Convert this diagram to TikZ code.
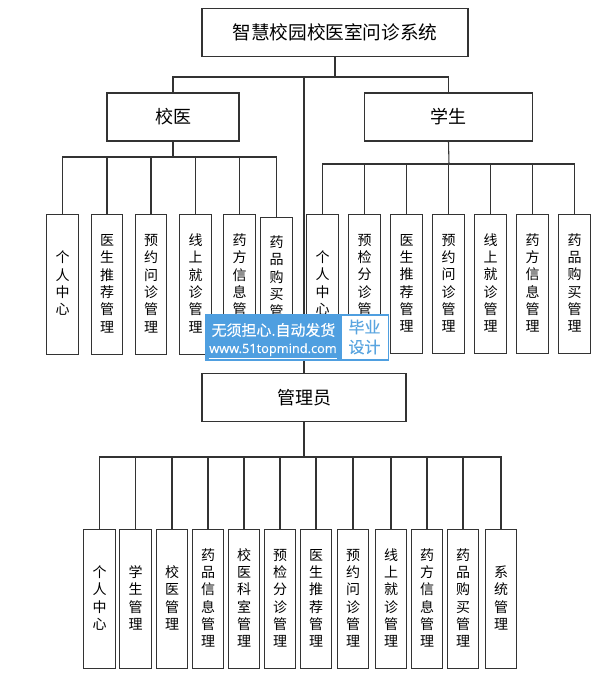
\documentclass[tikz,border=0pt]{standalone}
\usepackage{fontspec}
\setmainfont{Noto Sans CJK SC}
\newfontfamily\latinwm[FakeBold=0.3]{Open Sans}
\newfontfamily\cjkwm[FakeBold=0.25]{Noto Sans CJK SC}
\definecolor{wmblue}{HTML}{4F9FE0}
\definecolor{wmtext}{HTML}{5AA5E0}
\definecolor{linegrey}{HTML}{333333}
\newcommand\vtxt[1]{\raisebox{-3.4pt}[0pt][0pt]{\begin{tabular}[c]{@{}c@{}}#1\end{tabular}}}
\tikzset{
  x=0.75pt,y=-0.75pt,
  box/.style={draw=linegrey,line width=0.8pt,fill=white,inner sep=0pt,align=center},
  bigbox/.style={box,font=\fontsize{13.5pt}{16pt}\selectfont},
  vbox/.style={draw=linegrey,line width=0.8pt,fill=white,inner sep=0pt,minimum width=23.5pt,minimum height=104.5pt,font=\fontsize{10.5pt}{13pt}\selectfont},
  link/.style={draw=linegrey,line width=0.8pt},
}
\begin{document}
\begin{tikzpicture}
\useasboundingbox (0,0) rectangle (594,676);
\fill[white] (0,0) rectangle (594,676);
% root and main branches
\node[bigbox,font=\fontsize{14pt}{16pt}\selectfont,minimum width=199.5pt,minimum height=36.5pt] (root) at (335,32.5) {智慧校园校医室问诊系统};
\node[bigbox,minimum width=99pt,minimum height=36pt] (doc) at (173,117) {校医};
\node[bigbox,minimum width=126.5pt,minimum height=36pt] (stu) at (448.5,117) {学生};
\node[bigbox,minimum width=153pt,minimum height=36.5pt] (adm) at (304,397.5) {管理员};
\coordinate (rootbus) at (335,77);
\coordinate (docbus) at (173,157);
\coordinate (stubus) at (449,164);
\coordinate (admbus) at (304,457);
% links behind the boxes
\draw[link] (root.south) -- (rootbus);
\draw[link] (adm.north) |- (rootbus);
\draw[link] (doc.north) |- (rootbus);
\draw[link] (stu.north) |- (rootbus);
\draw[link] (doc.south) -- (docbus);
\draw[link] (stu.south) -- (stubus);
\draw[link] (adm.south) -- (admbus);
% doctor children
\foreach \n/\x/\t in {d1/62.5/个\\人\\中\\心, d2/107/医\\生\\推\\荐\\管\\理, d3/151/预\\约\\问\\诊\\管\\理, d4/195.5/线\\上\\就\\诊\\管\\理, d5/239.5/药\\方\\信\\息\\管\\理}{
  \node[vbox] (\n) at (\x,284.5) {\vtxt{\t}};
  \draw[link] (\n.north) |- (docbus);
}
\node[vbox,minimum height=104pt] (d6) at (276.5,286.5) {\vtxt{药\\品\\购\\买\\管\\理}};
\draw[link] (d6.north) |- (docbus);
% student children
\foreach \n/\x/\t in {s1/322.5/个\\人\\中\\心, s2/364.5/预\\检\\分\\诊\\管\\理, s3/406.5/医\\生\\推\\荐\\管\\理, s4/448.5/预\\约\\问\\诊\\管\\理, s5/490.5/线\\上\\就\\诊\\管\\理, s6/532.5/药\\方\\信\\息\\管\\理, s7/574.5/药\\品\\购\\买\\管\\理}{
  \node[vbox] (\n) at (\x,284) {\vtxt{\t}};
  \draw[link] (\n.north) |- (stubus);
}
% administrator children
\foreach \n/\x/\t in {a1/99.5/个\\人\\中\\心, a2/135.5/学\\生\\管\\理, a3/172/校\\医\\管\\理, a4/208/药\\品\\信\\息\\管\\理, a5/244/校\\医\\科\\室\\管\\理, a6/280/预\\检\\分\\诊\\管\\理, a7/316/医\\生\\推\\荐\\管\\理, a8/353/预\\约\\问\\诊\\管\\理, a9/391/线\\上\\就\\诊\\管\\理, a10/427/药\\方\\信\\息\\管\\理, a11/463/药\\品\\购\\买\\管\\理, a12/501/系\\统\\管\\理}{
  \node[vbox] (\n) at (\x,599) {\vtxt{\t}};
  \draw[link] (\n.north) |- (admbus);
}
% banner
\node[fill=wmblue,minimum width=138pt,minimum height=35.25pt,inner sep=0pt] (wm) at (297,337.5) {};
\node[fill=white,minimum width=34.5pt,minimum height=32pt,inner sep=0pt] (wmbox) at (364.5,337.5) {};
\node[text=white,inner sep=0pt,font=\cjkwm\fontsize{11.2pt}{12pt}\selectfont] (wm1) at (273.5,330) {无须担心.自动发货};
\node[text=white,inner sep=0pt,font=\latinwm\fontsize{9.6pt}{12pt}\selectfont] (wm2) at (273,351) {\underline{www.51topmind.com}};
\node[text=wmtext,inner sep=0pt,align=center,font=\cjkwm\fontsize{12pt}{15pt}\selectfont] (wm3) at (364.5,337) {毕业\\设计};
\end{tikzpicture}
\end{document}
